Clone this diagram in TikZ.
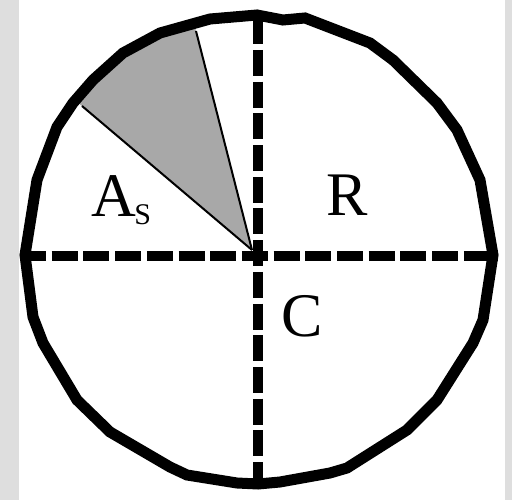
\documentclass[tikz,border=0pt]{standalone}
\usepackage{fontspec}
\setmainfont{Liberation Serif}
\definecolor{bgray}{HTML}{DEDEDE}
\definecolor{sgray}{HTML}{A8A8A8}
\tikzset{
  rim/.style={line width=11pt, line join=miter},
  axisline/.style={line width=10.5pt, dash pattern=on 26pt off 5.7pt},
  ray/.style={line width=2pt},
  lbl/.style={inner sep=0pt, outer sep=0pt, anchor=base west, font=\fontsize{62}{62}\selectfont}
}
\newcommand{\subsz}[1]{\hspace{-1.5pt}\raisebox{-8pt}{\fontsize{30}{30}\selectfont #1}}
\begin{document}
\begin{tikzpicture}[x=1pt,y=-1pt]
\useasboundingbox (0,0) rectangle (512,500);
\fill[bgray] (0,0) rectangle (512,500);
\fill[white] (19,0) rectangle (505,500);
% shaded sector
\coordinate (apex) at (252,250);
\coordinate (e1) at (82,106);
\coordinate (e2) at (196,31);
\fill[sgray] (apex) -- (76,101) -- (93,80) -- (123,53) -- (160,33) -- (194,23) -- cycle;
\draw[ray] (apex) -- (e1);
\draw[ray] (apex) -- (e2);
% axes
\coordinate (L) at (20,256);
\coordinate (Rr) at (498,256);
\coordinate (T) at (258,18.3);
\coordinate (B) at (258,490);
\draw[axisline] (L) -- (Rr);
\draw[axisline] (T) -- (B);
% rim polygon
\draw[rim] (257,15) -- (283,20) -- (305,18) -- (370,43) -- (393,60) -- (437,103) -- (457,130) -- (480,180) -- (493,255) -- (483,320) -- (473,343) -- (437,400) -- (407,430) -- (347,468) -- (330,473) -- (280,482) -- (258,484) -- (237,483) -- (187,475) -- (170,467) -- (110,432) -- (77,400) -- (43,343) -- (33,317) -- (25,255) -- (37,180) -- (57,127) -- (73,103) -- (93,80) -- (123,53) -- (160,33) -- (210,19) -- cycle;
% labels
\node[lbl] (A) at (91,217) {A\subsz{S}};
\node[lbl] (R) at (326,215) {R};
\node[lbl] (C) at (281,336) {C};
\end{tikzpicture}
\end{document}
